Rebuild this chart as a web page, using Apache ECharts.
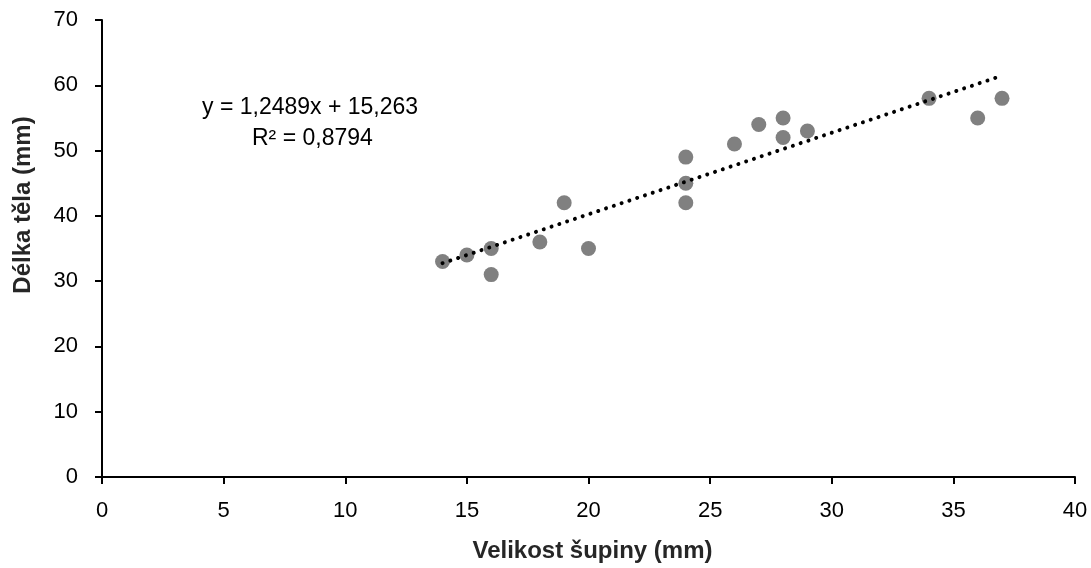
<!DOCTYPE html>
<html>
<head>
<meta charset="utf-8">
<script src="https://cdn.jsdelivr.net/npm/echarts@6/dist/echarts.min.js"></script>
<style>
  html, body { margin: 0; padding: 0; background: #fff; }
  #chart { width: 1091px; height: 568px; }
</style>
</head>
<body>
<div id="chart"></div>
<script>
// Scale size vs. body length measurements
const scaleSize = [14, 15, 16, 16, 18, 19, 20, 24, 24, 24, 26, 27, 28, 28, 29, 34, 36, 37];
const bodyLength = [33, 34, 35, 31, 36, 42, 35, 49, 45, 42, 51, 54, 55, 52, 53, 58, 55, 58];

// Linear trendline coefficients as stated in the equation label
const slope = 1.2489;
const intercept = 15.263;
const rSquared = 0.8794;

const xTitle = 'Velikost šupiny (mm)';
const yTitle = 'Délka těla (mm)';

const fmt = (v) => String(v).replace('.', ',');

const points = scaleSize.map((x, i) => [x, bodyLength[i]]);
const xMin = Math.min(...scaleSize);
const xMax = Math.max(...scaleSize);
const trend = [[xMin, slope * xMin + intercept], [xMax, slope * xMax + intercept]];

const font = '"Liberation Sans", "DejaVu Sans", sans-serif';

const chart = echarts.init(document.getElementById('chart'));
chart.setOption({
  animation: false,
  backgroundColor: '#ffffff',
  grid: { left: 102, right: 16, top: 20, bottom: 89 },
  xAxis: {
    type: 'value', min: 0, max: 40, interval: 5,
    name: xTitle, nameLocation: 'middle', nameGap: 62,
    nameTextStyle: { fontFamily: font, fontSize: 24, fontWeight: 'bold', color: '#262626', padding: [0, 0, 0, 8] },
    axisLine: { lineStyle: { color: '#000', width: 2 } },
    axisTick: { show: true, length: 7, lineStyle: { color: '#000', width: 2 } },
    axisLabel: { fontFamily: font, fontSize: 22, color: '#000', margin: 23 },
    splitLine: { show: false }
  },
  yAxis: {
    type: 'value', min: 0, max: 70, interval: 10,
    axisLine: { show: true, lineStyle: { color: '#000', width: 2 } },
    axisTick: { show: true, length: 7, lineStyle: { color: '#000', width: 2 } },
    axisLabel: { fontFamily: font, fontSize: 22, color: '#000', margin: 24 },
    splitLine: { show: false }
  },
  series: [
    {
      type: 'line',
      data: trend,
      showSymbol: false,
      symbol: 'none',
      lineStyle: { color: '#000', width: 4, type: [0.01, 8.2], cap: 'round' },
      z: 3
    },
    {
      type: 'scatter',
      data: points,
      symbolSize: 15,
      itemStyle: { color: '#808080', opacity: 1 },
      z: 2
    }
  ],
  graphic: [
    {
      type: 'text', x: 23, y: 205, rotation: Math.PI / 2,
      style: {
        text: yTitle, font: 'bold 24px ' + font, fill: '#262626',
        align: 'center', verticalAlign: 'middle'
      }
    },
    {
      type: 'text', left: 202, top: 96,
      style: { text: 'y = ' + fmt(slope) + 'x + ' + fmt(intercept), font: '23px ' + font, fill: '#000' }
    },
    {
      type: 'text', left: 252, top: 127,
      style: { text: 'R² = ' + fmt(rSquared), font: '23px ' + font, fill: '#000' }
    }
  ]
});
</script>
</body>
</html>
